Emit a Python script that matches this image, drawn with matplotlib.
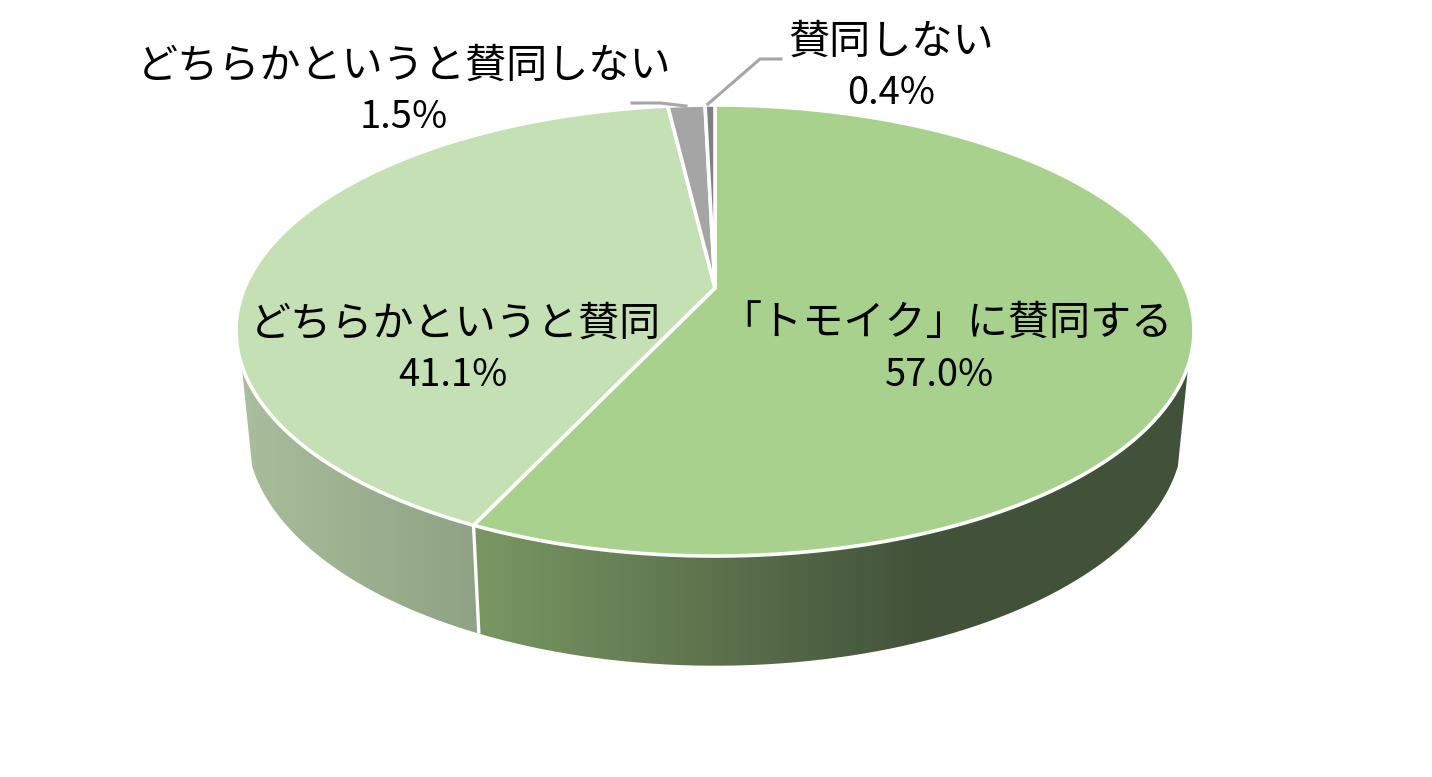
import numpy as np
import matplotlib
matplotlib.use("Agg")
import matplotlib.pyplot as plt
from matplotlib.path import Path
from matplotlib.patches import PathPatch
from matplotlib.transforms import Transform, Affine2D
from matplotlib.colors import LinearSegmentedColormap

# ---- data ----
categories = ["「トモイク」に賛同する", "どちらかというと賛同", "どちらかというと賛同しない", "賛同しない"]
values = [57.0, 41.1, 1.5, 0.4]
value_labels = ["57.0%", "41.1%", "1.5%", "0.4%"]

# ---- style / layout ----
top_colors = ["#A9D18E", "#C5E0B4", "#A5A5A5", "#7F7F7F"]
W, H = 1432, 777
CJK = ["Noto Sans CJK JP", "DejaVu Sans"]
label_xy = [(946, 324), (455, 324), (404, 66), (891, 42)]
value_xy = [(940, 376), (453, 376), (404, 118), (891, 94)]
CX = 715
K = 0.1885
TOP = dict(A=470.4, B=217.5, y0=288.0)     # perspective of the top face
BOT = dict(A=460.0, B=227.0, y0=386.0)     # perspective of the bottom face


def project(u, v, A, B, y0):
    d = 1 + K * v
    return CX + A * u / d, y0 - B * v / d


class Perspective(Transform):
    input_dims = output_dims = 2
    is_affine = False
    has_inverse = False

    def transform_non_affine(self, xy):
        xy = np.asarray(xy, float)
        x, y = project(xy[:, 0], xy[:, 1], **TOP)
        return np.column_stack([x, y])

    def transform_path_non_affine(self, path):
        poly = Affine2D().scale(2000).transform_path(path).to_polygons(closed_only=False)[0] / 2000
        return Path(self.transform_non_affine(poly))


def rim(a0, a1, face, n=200):
    """Points on a face's rim, angles clockwise from the top in degrees."""
    t = np.radians(np.linspace(a0, a1, n))
    return np.column_stack(project(np.sin(t), np.cos(t), **face))


fig = plt.figure(figsize=(W / 100, H / 100), dpi=100, facecolor="white")
ax = fig.add_axes([0, 0, 1, 1])

wedges, _ = ax.pie(values, startangle=90, counterclock=False, colors=top_colors,
                   wedgeprops=dict(edgecolor="white", linewidth=2.6), normalize=True)
persp = Perspective()
for w in wedges:
    w.set_transform(persp + ax.transData)
    w.set_zorder(5)
    w.set_clip_on(False)

ax.axis("off")

# side wall, built from the same cumulative values
edges = np.cumsum([0] + values) / np.sum(values) * 360
RIGHT, LEFT = 109.4, 250.6   # visible limits of the wall (clockwise from top)

walls = [
    (rim(RIGHT, edges[1], TOP), rim(edges[1], RIGHT, BOT),
     [(0.0, "#7A9763"), (0.63, "#42523A"), (1.0, "#42523A")]),
    (rim(edges[1], LEFT, TOP), rim(LEFT, edges[1], BOT),
     [(0.0, "#A9BE9C"), (1.0, "#8FA284")]),
]
for top_pts, bot_pts, stops in walls:
    pts = np.vstack([top_pts, bot_pts])
    clip = PathPatch(Path(np.vstack([pts, pts[:1]])), facecolor="none", edgecolor="none",
                     transform=ax.transData)
    ax.add_patch(clip)
    x0, x1 = pts[:, 0].min(), pts[:, 0].max()
    y0, y1 = pts[:, 1].min(), pts[:, 1].max()
    cmap = LinearSegmentedColormap.from_list("w", stops)
    im = ax.imshow(np.linspace(0, 1, 512)[None, :], cmap=cmap, aspect="auto",
                   extent=(x0, x1, y1, y0), zorder=2, interpolation="bilinear")
    im.set_clip_path(clip)

ax.set_aspect("auto")
ax.set_xlim(0, W)
ax.set_ylim(H, 0)

# white line between the two wall pieces
sep = np.vstack([rim(edges[1], edges[1], TOP, 1), rim(edges[1], edges[1], BOT, 1)])
ax.plot(sep[:, 0], sep[:, 1], color="white", lw=2.4, zorder=3, solid_capstyle="butt")

# leader lines
ax.plot([708, 760, 781], [104, 59, 59], color="#A6A6A6", lw=2.2, zorder=6)
ax.plot([632, 660, 686], [103, 103, 106], color="#A6A6A6", lw=2.2, zorder=6)

# labels
for name, val, lxy, vxy in zip(categories, value_labels, label_xy, value_xy):
    ax.text(*lxy, name, family=CJK, fontsize=29.6, ha="center", va="center",
            color="black", zorder=7)
    ax.text(*vxy, val, family=CJK, fontsize=27.5, ha="center", va="center",
            color="black", zorder=7)

fig.savefig("out.png", dpi=100, facecolor="white")
